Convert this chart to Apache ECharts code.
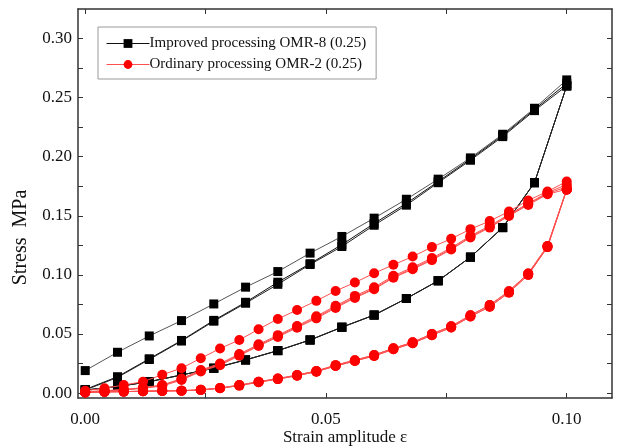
<!DOCTYPE html>
<html>
<head>
<meta charset="utf-8">
<script src="https://cdn.jsdelivr.net/npm/echarts@6/dist/echarts.min.js"></script>
<style>
  html, body { margin: 0; padding: 0; background: #fff; }
  #chart { width: 617px; height: 448px; }
</style>
</head>
<body>
<div id="chart"></div>
<script>
// Strain steps for the two specimens
const blackStrain = [0, 0.0067, 0.0133, 0.02, 0.0267, 0.0333, 0.04, 0.0467, 0.0533, 0.06, 0.0667, 0.0733, 0.08, 0.0867, 0.0933, 0.1];
const redStrain = [0, 0.004, 0.008, 0.012, 0.016, 0.02, 0.024, 0.028, 0.032, 0.036, 0.04, 0.044, 0.048, 0.052,
                   0.056, 0.06, 0.064, 0.068, 0.072, 0.076, 0.08, 0.084, 0.088, 0.092, 0.096, 0.1];

// Improved processing OMR-8: loading branches per cycle, unloading branch (ascending strain)
const blackLoad1 = [0.019, 0.0345, 0.0483, 0.0613, 0.0754, 0.0896, 0.1028, 0.1184, 0.1325, 0.148, 0.164, 0.181, 0.199, 0.219, 0.241, 0.265];
const blackLoad2 = [0.003, 0.0138, 0.0290, 0.0445, 0.0615, 0.0768, 0.0938, 0.1095, 0.1256, 0.1435, 0.1605, 0.179, 0.198, 0.218, 0.240, 0.262];
const blackLoad3 = [0.0025, 0.0132, 0.0284, 0.0440, 0.0608, 0.0760, 0.0920, 0.1088, 0.1240, 0.142, 0.159, 0.178, 0.197, 0.217, 0.239, 0.260];
const blackUnload = [0.0025, 0.0055, 0.0096, 0.0153, 0.021, 0.028, 0.0359, 0.0449, 0.0557, 0.066, 0.080, 0.095, 0.115, 0.140, 0.178, 0.260];

// Ordinary processing OMR-2: loading branches per cycle, unloading branches (ascending strain)
const redLoad1 = [0.002, 0.004, 0.0068, 0.0096, 0.0155, 0.021, 0.0294, 0.0377, 0.0449, 0.054, 0.0627, 0.0703, 0.078,
                  0.0864, 0.0935, 0.1014, 0.1085, 0.1155, 0.1235, 0.1305, 0.1387, 0.1455, 0.1537, 0.163, 0.1706, 0.179];
const redLoad2 = [0.001, 0.002, 0.003, 0.0046, 0.0068, 0.0122, 0.0195, 0.0250, 0.0330, 0.0412, 0.0490, 0.0568, 0.0650,
                  0.0738, 0.0822, 0.0895, 0.0992, 0.1064, 0.1142, 0.1230, 0.1330, 0.1415, 0.1512, 0.1605, 0.1695, 0.1765];
const redLoad3 = [0.001, 0.0018, 0.0028, 0.0043, 0.0063, 0.0116, 0.0188, 0.0243, 0.0322, 0.0404, 0.0481, 0.0560, 0.0640,
                  0.0728, 0.0812, 0.0884, 0.0982, 0.1054, 0.1132, 0.1220, 0.1322, 0.1406, 0.1504, 0.1598, 0.1688, 0.1745];
const redLoad4 = [0.0008, 0.0016, 0.0026, 0.0040, 0.0060, 0.0110, 0.0182, 0.0236, 0.0315, 0.0398, 0.0474, 0.0553, 0.0632,
                  0.0720, 0.0805, 0.0878, 0.0975, 0.1047, 0.1125, 0.1214, 0.1316, 0.1400, 0.1498, 0.1592, 0.1682, 0.1725];
const redUnload1 = [0.0005, 0.001, 0.0012, 0.0015, 0.0018, 0.002, 0.0025, 0.004, 0.0063, 0.0092, 0.0118, 0.0147, 0.0181,
                    0.0229, 0.0271, 0.0314, 0.0370, 0.0421, 0.0490, 0.0554, 0.0647, 0.0731, 0.0850, 0.1000, 0.1235, 0.172];
const redUnload2 = [0.0005, 0.001, 0.0012, 0.0015, 0.0018, 0.002, 0.0027, 0.0043, 0.0067, 0.0096, 0.0122, 0.0152, 0.0187,
                    0.0236, 0.0278, 0.0322, 0.0378, 0.0430, 0.0500, 0.0565, 0.0658, 0.0744, 0.0862, 0.1012, 0.1245, 0.1725];

const nameBlack = 'Improved processing OMR-8 (0.25)';
const nameRed = 'Ordinary processing OMR-2 (0.25)';
const xLabels = [0, 0.05, 0.1];
const xTicks = [0, 0.025, 0.05, 0.075, 0.1];
const yLabels = [0, 0.05, 0.1, 0.15, 0.2, 0.25, 0.3];
const yTicks = [0, 0.025, 0.05, 0.075, 0.1, 0.125, 0.15, 0.175, 0.2, 0.225, 0.25, 0.275, 0.3];

// One closed loading/unloading cycle as [strain, stress] pairs
function cycle(strain, load, unload) {
  const up = strain.map((x, i) => [x, load[i]]);
  const down = strain.map((x, i) => [x, unload[i]]).reverse();
  return up.concat(down);
}

const FONT = '"Liberation Serif", "Times New Roman", serif';

function blackSeries(data, lineColor) {
  return {
    name: nameBlack, type: 'line', data: data,
    symbol: 'rect', symbolSize: 9,
    itemStyle: { color: '#000' },
    lineStyle: { color: lineColor, width: 1 },
    emphasis: { disabled: true }, animation: false, z: 2
  };
}
function redSeries(data) {
  return {
    name: nameRed, type: 'line', data: data,
    symbol: 'circle', symbolSize: 10,
    itemStyle: { color: '#ff0000' },
    lineStyle: { color: '#ff5050', width: 1 },
    emphasis: { disabled: true }, animation: false, z: 3
  };
}

const frameLine = { show: true, onZero: false, lineStyle: { color: '#333', width: 1.5 } };

const option = {
  backgroundColor: '#fff',
  animation: false,
  grid: { left: 78, right: 5, top: 9, bottom: 50, containLabel: false, outerBoundsMode: 'none' },
  legend: {
    orient: 'vertical', left: 98, top: 27,
    data: [
      { name: nameBlack, lineStyle: { color: '#111', width: 1 } },
      { name: nameRed, lineStyle: { color: '#ff5050', width: 1 } }
    ],
    itemWidth: 43, itemHeight: 11, itemGap: 6,
    padding: [9, 10, 7, 8],
    borderColor: '#999', borderWidth: 1, backgroundColor: '#fff',
    selectedMode: false,
    textStyle: { fontFamily: FONT, fontSize: 15, color: '#111', padding: [0, 0, 0, -5] }
  },
  xAxis: [
    {
      type: 'value', position: 'bottom', min: -0.0015, max: 0.1094,
      name: 'Strain amplitude ε', nameLocation: 'middle', nameGap: 31, nameMoveOverlap: false,
      nameTextStyle: { fontFamily: FONT, fontSize: 17, color: '#111' },
      axisLine: frameLine,
      axisTick: { show: true, inside: true, length: 5, customValues: xTicks, lineStyle: { color: '#333' } },
      axisLabel: { customValues: xLabels, margin: 13, fontFamily: FONT, fontSize: 17, color: '#111',
                   formatter: v => v.toFixed(2) },
      splitLine: { show: false }
    },
    {
      type: 'value', position: 'top', min: -0.0015, max: 0.1094,
      axisLine: frameLine,
      axisTick: { show: true, inside: true, length: 5, customValues: xTicks, lineStyle: { color: '#333' } },
      axisLabel: { show: false },
      splitLine: { show: false }
    }
  ],
  yAxis: [
    {
      type: 'value', position: 'left', min: -0.0042, max: 0.325,
      name: 'Stress  MPa', nameLocation: 'middle', nameGap: 47, nameRotate: 90, nameMoveOverlap: false,
      nameTextStyle: { fontFamily: FONT, fontSize: 20, color: '#111', padding: [0, 68, 0, 0] },
      axisLine: frameLine,
      axisTick: { show: true, inside: true, length: 5, customValues: yTicks, lineStyle: { color: '#333' } },
      axisLabel: { customValues: yLabels, margin: 6, fontFamily: FONT, fontSize: 17, color: '#111',
                   formatter: v => v.toFixed(2) },
      splitLine: { show: false }
    },
    {
      type: 'value', position: 'right', min: -0.0042, max: 0.325,
      axisLine: frameLine,
      axisTick: { show: true, inside: true, length: 5, customValues: yTicks, lineStyle: { color: '#333' } },
      axisLabel: { show: false },
      splitLine: { show: false }
    }
  ],
  series: [
    blackSeries(cycle(blackStrain, blackLoad1, blackUnload), '#555'),
    blackSeries(cycle(blackStrain, blackLoad2, blackUnload), '#111'),
    blackSeries(cycle(blackStrain, blackLoad3, blackUnload), '#222'),
    redSeries(cycle(redStrain, redLoad1, redUnload1)),
    redSeries(cycle(redStrain, redLoad2, redUnload2)),
    redSeries(cycle(redStrain, redLoad3, redUnload1)),
    redSeries(cycle(redStrain, redLoad4, redUnload2))
  ]
};

const chart = echarts.init(document.getElementById('chart'), null, { renderer: 'canvas' });
chart.setOption(option);
</script>
</body>
</html>
